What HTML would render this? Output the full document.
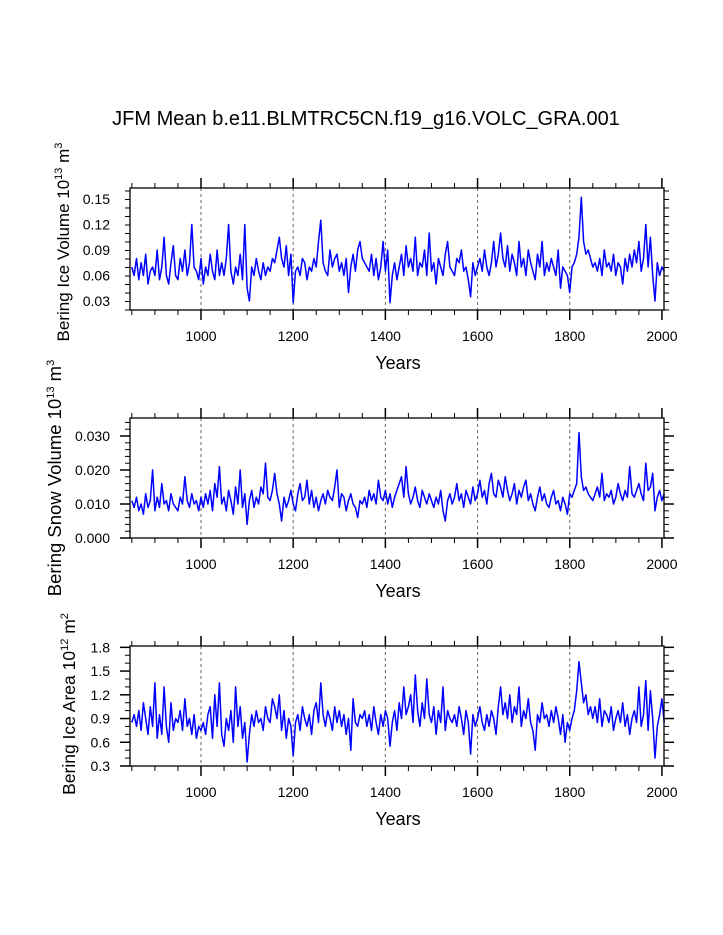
<!DOCTYPE html>
<html><head><meta charset="utf-8">
<style>
body{margin:0;background:#fff;}
svg{display:block;font-family:"Liberation Sans",Arial,sans-serif;}
</style></head>
<body>
<svg id="fig" width="723" height="935" viewBox="0 0 723 935" xmlns="http://www.w3.org/2000/svg">
<rect width="723" height="935" fill="#fff"/>
<text x="366" y="125" font-size="20" text-anchor="middle">JFM Mean b.e11.BLMTRC5CN.f19_g16.VOLC_GRA.001</text>
</svg>
<script>
const startYear = 850;
const stepYears = 5;
const iceVolume = [
.07,.06,.08,.055,.075,.06,.085,.05,.065,.07,.06,.09,.055,.07,.105,.06,.05,.075,.095,.06,
.055,.08,.065,.09,.06,.075,.12,.07,.065,.055,.08,.05,.07,.06,.085,.065,.055,.09,.06,.075,
.06,.08,.12,.065,.05,.07,.06,.085,.055,.12,.045,.03,.07,.06,.08,.065,.055,.075,.06,.07,
.065,.08,.075,.09,.105,.08,.07,.095,.06,.085,.028,.065,.07,.06,.08,.075,.055,.07,.065,.08,
.07,.1,.125,.075,.065,.06,.09,.07,.08,.085,.065,.075,.06,.08,.04,.07,.085,.065,.09,.1,
.08,.075,.07,.065,.085,.06,.08,.055,.07,.1,.065,.09,.028,.06,.075,.055,.07,.085,.06,.095,
.07,.08,.065,.105,.06,.075,.07,.09,.06,.11,.065,.075,.05,.08,.07,.06,.085,.1,.07,.065,
.06,.08,.075,.09,.065,.07,.055,.035,.075,.06,.07,.08,.065,.09,.07,.06,.075,.1,.07,.085,
.11,.08,.07,.095,.065,.085,.075,.06,.1,.07,.08,.06,.09,.075,.065,.055,.085,.07,.1,.06,
.075,.065,.08,.07,.06,.09,.045,.07,.065,.06,.04,.07,.075,.085,.105,.152,.1,.085,.09,.08,
.07,.075,.065,.08,.06,.09,.07,.075,.065,.085,.06,.075,.07,.05,.08,.065,.085,.07,.09,.075,
.1,.065,.08,.12,.07,.105,.06,.03,.075,.06,.07,.065];
const snowVolume = [
.011,.009,.012,.008,.010,.007,.013,.009,.011,.02,.008,.012,.009,.016,.010,.011,.008,.013,.010,.009,
.008,.012,.010,.018,.011,.009,.013,.010,.011,.008,.012,.009,.013,.010,.014,.008,.016,.012,.021,.010,
.012,.008,.014,.011,.007,.015,.010,.020,.009,.013,.004,.011,.014,.009,.012,.010,.015,.013,.022,.012,
.011,.014,.019,.013,.010,.005,.012,.009,.011,.014,.010,.008,.013,.016,.011,.012,.017,.010,.014,.009,
.012,.008,.011,.013,.010,.014,.012,.011,.015,.020,.009,.013,.012,.008,.011,.013,.010,.009,.006,.011,
.010,.012,.009,.014,.011,.013,.010,.017,.012,.011,.014,.010,.013,.009,.012,.014,.016,.018,.012,.021,
.013,.010,.012,.015,.011,.009,.014,.012,.010,.013,.011,.009,.012,.010,.014,.008,.005,.011,.013,.010,
.012,.016,.011,.013,.009,.014,.012,.010,.015,.011,.013,.017,.012,.014,.010,.016,.019,.013,.012,.017,
.015,.012,.018,.014,.011,.013,.016,.010,.014,.012,.015,.017,.011,.013,.010,.008,.012,.015,.011,.013,
.010,.009,.012,.014,.010,.011,.008,.012,.010,.007,.013,.012,.014,.016,.031,.018,.014,.015,.013,.012,
.011,.013,.015,.012,.019,.011,.013,.012,.014,.010,.012,.016,.013,.011,.014,.012,.021,.013,.012,.014,
.016,.013,.011,.022,.014,.015,.019,.008,.012,.014,.011,.013];
const iceArea = [
.85,.95,.8,1.0,.75,1.1,.9,.7,1.05,.8,1.35,.65,.95,.7,1.3,.8,.6,1.1,.75,.9,
.85,1.0,.75,1.15,.8,.9,.7,.95,.65,.8,.75,.85,.7,.95,1.05,.65,1.2,.8,1.35,.7,
.55,.9,.75,1.0,.6,1.3,.8,1.05,.65,.85,.35,.7,.95,.8,1.0,.85,.9,.75,1.05,.9,
.85,1.15,1.05,.9,1.2,.75,1.0,.65,.9,.8,.43,.85,.95,.75,1.05,.9,.8,.95,.7,1.0,
1.1,.85,1.35,.95,.8,1.0,.9,.75,1.05,.85,1.0,.8,.95,.7,.9,.5,1.15,.85,.8,.95,
.9,1.0,.8,.95,.75,1.05,.85,.7,.95,.8,1.0,.9,.55,.85,1.0,.75,1.1,.9,1.3,.95,
1.05,1.2,.85,1.45,1.0,.8,1.1,.9,1.4,.95,.85,1.05,.7,1.0,.85,1.3,.75,1.0,.9,.85,
.95,.8,1.05,.9,.7,1.0,.85,.45,.95,.8,.9,1.05,.85,.75,.95,.8,1.0,.9,.7,1.05,
1.3,.95,1.1,.9,1.2,.85,1.05,.95,1.3,.8,1.0,.9,1.15,.85,.75,.5,.95,.85,1.1,.9,
.95,.8,1.0,.85,1.05,.9,.7,.95,.6,.85,.75,.9,1.0,1.25,1.62,1.35,1.1,1.2,.95,1.05,
.9,1.05,.85,1.15,.8,1.0,.95,.85,1.05,.75,.9,1.0,.85,1.1,.8,.95,.7,.9,1.0,.85,
1.3,.8,.95,1.38,.75,1.25,.9,.4,.8,.95,1.15,.85];
const xTickLabels = [1000,1200,1400,1600,1800,2000];
const ticks1 = ["0.03","0.06","0.09","0.12","0.15"];
const ticks2 = ["0.000","0.010","0.020","0.030"];
const ticks3 = ["0.3","0.6","0.9","1.2","1.5","1.8"];

const NS="http://www.w3.org/2000/svg";
const svg=document.getElementById('fig');
function mk(tag,attrs,parent){const e=document.createElementNS(NS,tag);for(const k in attrs)e.setAttribute(k,attrs[k]);(parent||svg).appendChild(e);return e;}
const X0=130,X1=664,Y_MIN=846,Y_MAX=2004.5;
function xs(yr){return X0+(yr-Y_MIN)/(Y_MAX-Y_MIN)*(X1-X0);}

function panel(cfg){
  const g=mk('g',{});
  
  
  const ys=v=>cfg.yb-(v-cfg.vmin)/(cfg.vmax-cfg.vmin)*(cfg.yb-cfg.yt);
  for(let yr=1000;yr<=1800;yr+=200){
    const l=mk('line',{x1:xs(yr),x2:xs(yr),y1:cfg.yt,y2:cfg.yb,stroke:'#666','stroke-width':1,'stroke-dasharray':'3,3'},g);
    
    
  }
  let d='';
  cfg.data.forEach((v,i)=>{const yr=startYear+i*stepYears;d+=(i?'L':'M')+xs(yr).toFixed(1)+','+ys(v).toFixed(1);});
  const p=mk('path',{d:d,fill:'none',stroke:'#0000ff','stroke-width':1.5,'stroke-linejoin':'round'},g);
  
  
  const fr=mk('rect',{x:X0,y:cfg.yt,width:X1-X0,height:cfg.yb-cfg.yt,fill:'none',stroke:'#000','stroke-width':1.3},g);
  
  
  for(let yr=850;yr<=2000;yr+=50){
    const maj=yr%200===0, L=maj?10:5, x=xs(yr);
    mk('line',{x1:x,x2:x,y1:cfg.yb,y2:cfg.yb+L,stroke:'#000','stroke-width':maj?1.5:1},g);
    mk('line',{x1:x,x2:x,y1:cfg.yt,y2:cfg.yt-L,stroke:'#000','stroke-width':maj?1.5:1},g);
  }
  xTickLabels.forEach(yr=>{
    const t=mk('text',{x:xs(yr),y:cfg.yb+31,'font-size':14,'text-anchor':'middle'},g);
    t.textContent=yr;
    
    
  });
  const xt=mk('text',{x:398,y:cfg.yb+59,'font-size':18,'text-anchor':'middle'},g);
  xt.textContent='Years';
  
  
  const nMin=Math.round((cfg.vmax-cfg.vmin)/cfg.minor);
  for(let k=0;k<=nMin+1;k++){
    const v=cfg.vmin+k*cfg.minor; if(v>cfg.vmax+1e-9) break;
    const y=ys(v);
    const maj=Math.abs(((v-cfg.vmaj0)/cfg.major)-Math.round((v-cfg.vmaj0)/cfg.major))<1e-6;
    const L=maj?10:5;
    mk('line',{x1:X0,x2:X0-L,y1:y,y2:y,stroke:'#000','stroke-width':maj?1.5:1},g);
    mk('line',{x1:X1,x2:X1+L,y1:y,y2:y,stroke:'#000','stroke-width':maj?1.5:1},g);
  }
  cfg.labels.forEach((s,i)=>{
    const v=cfg.vmaj0+i*cfg.major;
    const t=mk('text',{x:X0-20,y:ys(v)+5,'font-size':14,'text-anchor':'end'},g);
    t.textContent=s;
    
    
  });
  const yt=mk('text',{transform:`translate(${cfg.tx},${cfg.ty}) rotate(-90)`,'font-size':cfg.fs,'text-anchor':'middle'},g);
  yt.innerHTML=cfg.title;
  
  
}
panel({name:'ice-volume-panel',data:iceVolume,yt:188,yb:310,vmin:0.0194,vmax:0.1629,major:0.03,vmaj0:0.03,minor:0.01,labels:ticks1,tx:69,ty:242,fs:17,
  title:'Bering Ice Volume 10<tspan dy="-7" font-size="11">13</tspan><tspan dy="7"> m</tspan><tspan dy="-7" font-size="11">3</tspan>'});
panel({name:'snow-volume-panel',data:snowVolume,yt:418,yb:538,vmin:0,vmax:0.0353,major:0.01,vmaj0:0,minor:0.002,labels:ticks2,tx:61,ty:478,fs:18.5,
  title:'Bering Snow Volume 10<tspan dy="-7" font-size="11">13</tspan><tspan dy="7"> m</tspan><tspan dy="-7" font-size="11">3</tspan>'});
panel({name:'ice-area-panel',data:iceArea,yt:646,yb:766,vmin:0.3,vmax:1.8169,major:0.3,vmaj0:0.3,minor:0.1,labels:ticks3,tx:75,ty:704,fs:17.5,
  title:'Bering Ice Area 10<tspan dy="-7" font-size="11">12</tspan><tspan dy="7"> m</tspan><tspan dy="-7" font-size="11">2</tspan>'});
</script>
</body></html>
